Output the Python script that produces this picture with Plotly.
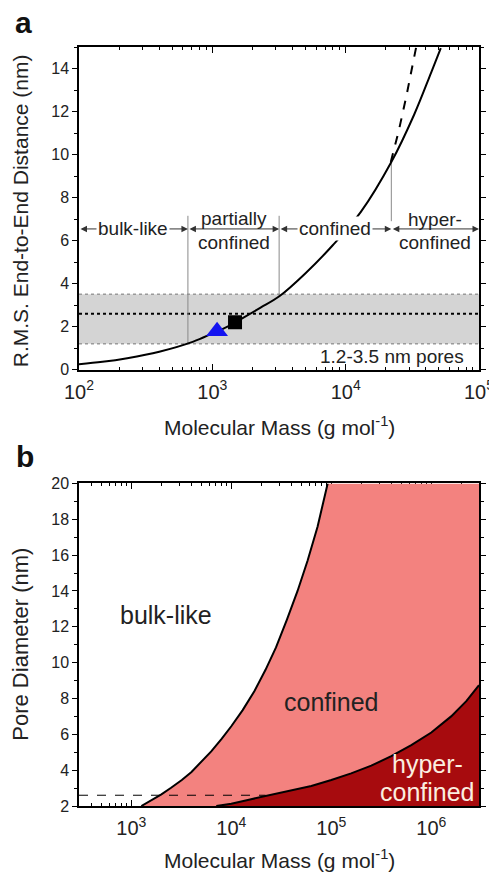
import numpy as np
import plotly.graph_objects as go

FONT = "Liberation Sans, Arial, Helvetica, sans-serif"

# ---------------- Panel a data ----------------
mass_a = [100, 150, 230, 400, 720, 1000, 1300, 1650, 2300, 3200, 5000, 8000,
          13000, 22000, 32600, 43700, 51700]
rms_a = [0.25, 0.36, 0.53, 0.83, 1.30, 1.68, 2.0, 2.36, 2.88, 3.42, 4.48, 5.78,
         7.33, 9.65, 11.85, 13.8, 14.95]
mass_rod = [21800, 25000, 28500, 32000, 33800]
rms_rod = [9.65, 11.1, 12.7, 14.25, 15.0]
pore_min, pore_max, pore_mid = 1.2, 3.5, 2.6
region_bounds = [100, 656, 3170, 22000, 100000]
region_line_low = [1.2, 3.4, 6.9]
region_line_high = [7.15, 7.15, 9.65]
arrow_level = 6.54
tri_mass, tri_rms = [1085], [1.78]
sq_mass, sq_rms = [1480], [2.2]

# ---------------- Panel b data ----------------
mass_b1 = [1260, 1600, 2000, 2500, 3200, 4000, 5000, 6300, 8000, 10000, 13000,
           17000, 22000, 28000, 36000, 46000, 58000, 73000, 92000]
pore_b1 = [2.0, 2.33, 2.65, 3.02, 3.45, 3.9, 4.45, 5.05, 5.75, 6.45, 7.35,
           8.4, 9.6, 10.85, 12.4, 14.0, 15.7, 17.6, 20.0]
mass_b2 = [7080, 10000, 15800, 25100, 39800, 63100, 100000, 158000, 251000,
           398000, 631000, 1000000, 1580000, 2240000, 3000000]
pore_b2 = [2.0, 2.12, 2.38, 2.62, 2.85, 3.12, 3.45, 3.82, 4.25, 4.78, 5.4,
           6.1, 7.0, 7.85, 8.74]
x_b_range = [300, 3.0e6]
y_b_range = [2, 20]

fig = go.Figure()

# ---- panel a traces ----
xa0, xa1 = region_bounds[0], region_bounds[-1]
fig.add_trace(go.Scatter(x=[xa0, xa1], y=[pore_min, pore_min], mode="lines",
                         line=dict(color="#9a9a9a", width=1.5, dash="dot"),
                         xaxis="x", yaxis="y", showlegend=False))
fig.add_trace(go.Scatter(x=[xa0, xa1], y=[pore_max, pore_max], mode="lines",
                         fill="tonexty", fillcolor="#d4d4d4",
                         line=dict(color="#9a9a9a", width=1.5, dash="dot"),
                         xaxis="x", yaxis="y", showlegend=False))
fig.add_trace(go.Scatter(x=[xa0, xa1], y=[pore_mid, pore_mid], mode="lines",
                         line=dict(color="black", width=2, dash="dot"),
                         xaxis="x", yaxis="y", showlegend=False))
for b, lo, hi in zip(region_bounds[1:4], region_line_low, region_line_high):
    fig.add_trace(go.Scatter(x=[b, b], y=[lo, hi], mode="lines",
                             line=dict(color="#8a8a8a", width=1),
                             xaxis="x", yaxis="y", showlegend=False))
fig.add_trace(go.Scatter(x=mass_rod, y=rms_rod, mode="lines",
                         line=dict(color="black", width=2, dash="dash"),
                         xaxis="x", yaxis="y", showlegend=False))
fig.add_trace(go.Scatter(x=mass_a, y=rms_a, mode="lines", line_shape="spline",
                         line=dict(color="black", width=2),
                         xaxis="x", yaxis="y", showlegend=False))
fig.add_trace(go.Scatter(x=tri_mass, y=tri_rms, mode="markers",
                         marker=dict(symbol="triangle-up", size=19, color="#1414f0"),
                         xaxis="x", yaxis="y", showlegend=False))
fig.add_trace(go.Scatter(x=sq_mass, y=sq_rms, mode="markers",
                         marker=dict(symbol="square", size=14, color="black"),
                         xaxis="x", yaxis="y", showlegend=False))

# ---- panel b traces ----
x_max, y_max, y_min = x_b_range[1], y_b_range[1], y_b_range[0]
conf_x = mass_b1 + [x_max] + mass_b2[::-1]
conf_y = pore_b1 + [y_max] + pore_b2[::-1]
fig.add_trace(go.Scatter(x=conf_x, y=conf_y, mode="lines", fill="toself",
                         fillcolor="#f3827f", line=dict(width=0),
                         xaxis="x2", yaxis="y2", showlegend=False))
hyp_x = mass_b2 + [x_max]
hyp_y = pore_b2 + [y_min]
fig.add_trace(go.Scatter(x=hyp_x, y=hyp_y, mode="lines", fill="toself",
                         fillcolor="#a70b0e", line=dict(width=0),
                         xaxis="x2", yaxis="y2", showlegend=False))
fig.add_trace(go.Scatter(x=[x_b_range[0], region_bounds[3]], y=[pore_mid, pore_mid],
                         mode="lines", line=dict(color="black", width=1, dash="dash"),
                         xaxis="x2", yaxis="y2", showlegend=False))
fig.add_trace(go.Scatter(x=mass_b1, y=pore_b1, mode="lines",
                         line=dict(color="black", width=2),
                         xaxis="x2", yaxis="y2", showlegend=False))
fig.add_trace(go.Scatter(x=mass_b2, y=pore_b2, mode="lines",
                         line=dict(color="black", width=2),
                         xaxis="x2", yaxis="y2", showlegend=False))

tickfont = dict(family=FONT, size=16, color="#222")
common_x = dict(type="log", dtick=1, exponentformat="power", showexponent="all",
                ticks="inside", ticklen=6, tickwidth=1, tickcolor="black",
                minor=dict(ticks="inside", ticklen=3, tickcolor="black", showgrid=False),
                showline=True, linecolor="black", linewidth=1.5, mirror="ticks",
                showgrid=False, zeroline=False, tickfont=tickfont, layer="below traces",
                automargin=False, ticklabeloverflow="allow", ticklabelstandoff=4)
common_y = dict(dtick=2, ticks="outside", ticklen=5, tickwidth=1, tickcolor="black",
                minor=dict(ticks="outside", ticklen=3, dtick=1, tickcolor="black", showgrid=False),
                showline=True, linecolor="black", linewidth=1.5, mirror="ticks",
                showgrid=False, zeroline=False, tickfont=tickfont, layer="below traces",
                automargin=False, ticklabeloverflow="allow")

fig.update_layout(
    width=489, height=872,
    margin=dict(l=79, r=10, t=47, b=66, autoexpand=False),
    paper_bgcolor="white", plot_bgcolor="white",
    font=dict(family=FONT, color="#222"),
    xaxis=dict(common_x, domain=[0, 1], anchor="y",
               range=[np.log10(region_bounds[0]), np.log10(region_bounds[-1])]),
    yaxis=dict(common_y, domain=[0.575, 1], anchor="x", range=[0, 15]),
    xaxis2=dict(common_x, domain=[0, 1], anchor="y2",
                range=[np.log10(x_b_range[0]), np.log10(x_b_range[1])]),
    yaxis2=dict(common_y, domain=[0, 0.425], anchor="x2", range=y_b_range),
)

ann = []
C = dict(xanchor="center", yanchor="middle", showarrow=False)
# panel letters
ann.append(dict(C, text="<b>a</b>", xref="paper", x=0, xshift=-56, yref="paper", y=1, yshift=25,
                font=dict(size=30, family=FONT, color="#111")))
ann.append(dict(C, text="<b>b</b>", xref="paper", x=0, xshift=-54, yref="y2 domain", y=1, yshift=27,
                font=dict(size=30, family=FONT, color="#111")))
# axis titles
title_font_x = dict(size=21, family=FONT, color="#222")
ann.append(dict(C, text="Molecular Mass (g mol<sup>-1</sup>)", xref="x domain", x=0.5,
                yref="y domain", y=0, yshift=-56, font=title_font_x))
ann.append(dict(C, text="R.M.S. End-to-End Distance (nm)", xref="x domain", x=0, xshift=-59,
                yref="y domain", y=0.5, yshift=-3, textangle=-90,
                font=dict(size=21, family=FONT, color="#222")))
ann.append(dict(C, text="Molecular Mass (g mol<sup>-1</sup>)", xref="x2 domain", x=0.5,
                yref="y2 domain", y=0, yshift=-53, font=title_font_x))
ann.append(dict(C, text="Pore Diameter (nm)", xref="x2 domain", x=0, xshift=-58,
                yref="y2 domain", y=0.5, textangle=-90,
                font=dict(size=22, family=FONT, color="#222")))

# region arrows in panel a
lb = np.log10(region_bounds)
for i in range(4):
    ann.append(dict(text="", x=lb[i + 1], y=arrow_level, ax=lb[i], ay=arrow_level,
                    xref="x", yref="y", axref="x", ayref="y", showarrow=True,
                    arrowside="end+start", arrowhead=2, startarrowhead=2,
                    arrowsize=1.3, startarrowsize=1.3, arrowwidth=1,
                    arrowcolor="#333", standoff=0, startstandoff=0))
mid = [(lb[i] + lb[i + 1]) / 2 for i in range(4)]
lab_font = dict(size=19, family=FONT, color="#222")
ann.append(dict(C, text="bulk-like", x=mid[0], y=arrow_level, xref="x", yref="y",
                bgcolor="white", borderpad=1, font=lab_font))
ann.append(dict(C, text="partially", x=mid[1], y=7.02, xref="x", yref="y", font=lab_font))
ann.append(dict(C, text="confined", x=mid[1], y=5.9, xref="x", yref="y", font=lab_font))
ann.append(dict(C, text="confined", x=mid[2], y=arrow_level, xref="x", yref="y",
                bgcolor="white", borderpad=1, font=lab_font))
ann.append(dict(C, text="hyper-", x=mid[3], y=6.98, xref="x", yref="y", font=lab_font))
ann.append(dict(C, text="confined", x=mid[3], y=5.93, xref="x", yref="y", font=lab_font))
ann.append(dict(text="1.2-3.5 nm pores", xref="x domain", x=1, xshift=-13, xanchor="right",
                yanchor="middle", yref="y", y=0.6, showarrow=False, font=lab_font))

# panel b labels
big_font = dict(size=25, family=FONT, color="#222")
white_font = dict(size=25, family=FONT, color="#fbeee0")
ann.append(dict(C, text="bulk-like", x=np.log10(2240), y=12.65, xref="x2", yref="y2",
                font=big_font))
ann.append(dict(C, text="confined", x=np.log10(100000), y=7.8, xref="x2", yref="y2",
                font=big_font))
ann.append(dict(C, text="hyper-", x=np.log10(912000), y=4.37, xref="x2", yref="y2",
                font=white_font))
ann.append(dict(C, text="confined", x=np.log10(912000), y=2.8, xref="x2", yref="y2",
                font=white_font))

fig.update_layout(annotations=ann)
fig.write_html("out.html")
